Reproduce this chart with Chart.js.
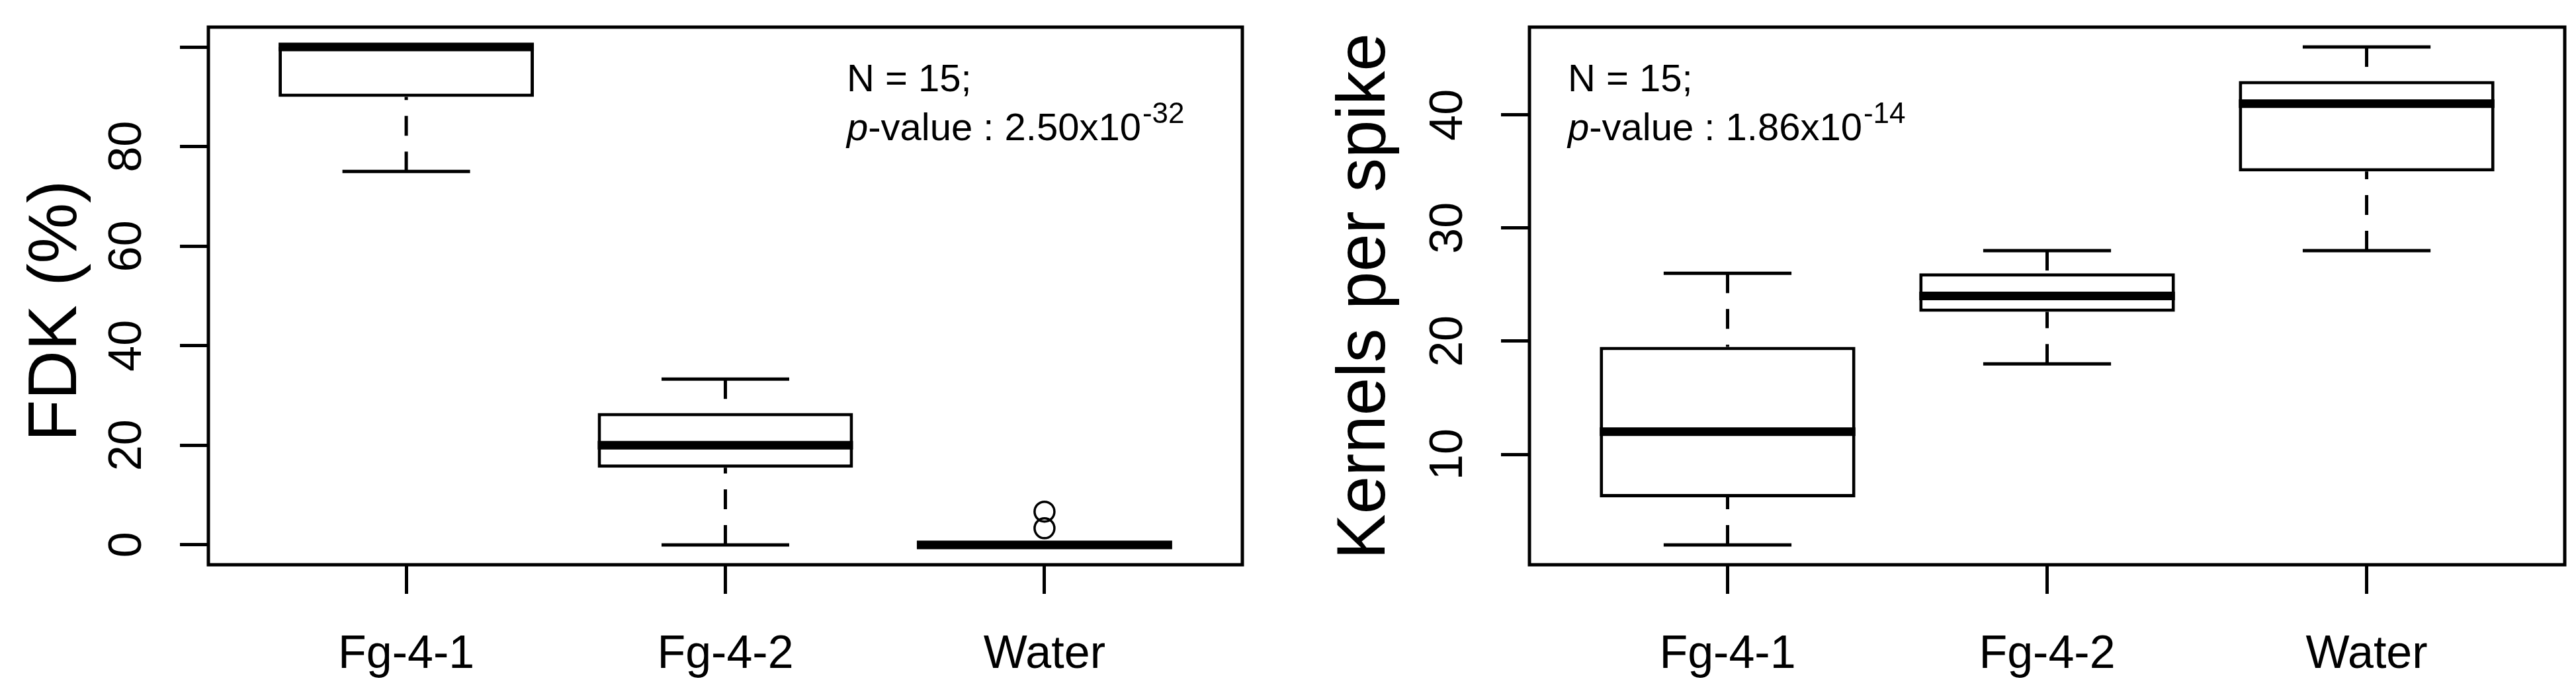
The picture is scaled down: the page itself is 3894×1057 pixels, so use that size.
<!DOCTYPE html>
<html>
<head>
<meta charset="utf-8">
<script src="https://cdn.jsdelivr.net/npm/chart.js@4.4.1/dist/chart.umd.min.js"></script>
<style>
  html, body { margin: 0; padding: 0; background: #fff; }
  #wrap { position: relative; width: 3894px; height: 1057px; }
  canvas { position: absolute; top: 0; }
  #fdkCanvas { left: 0; }
  #kpsCanvas { left: 1950px; }
</style>
</head>
<body>
<div id="wrap">
  <canvas id="fdkCanvas" width="1950" height="1057"></canvas>
  <canvas id="kpsCanvas" width="1944" height="1057"></canvas>
</div>
<script>
// groups on the x axis (positions 1, 2, 3)
const categories = ['Fg-4-1', 'Fg-4-2', 'Water'];

// FDK (%) box statistics per group
const fdkLow = [75, 0, 0];
const fdkQ1 = [90, 15.5, 0];
const fdkMedian = [100, 20, 0];
const fdkQ3 = [100, 26.5, 0];
const fdkHigh = [100, 33.3, 0];
const fdkWaterOutliers = [3.33, 6.67];
const fdkTicks = [0, 20, 40, 60, 80, 100];
const fdkTickLabels = ['0', '20', '40', '60', '80', ''];

// Kernels per spike box statistics per group
const kpsLow = [2, 18, 28];
const kpsQ1 = [6.2, 22.6, 35];
const kpsMedian = [12, 24, 41];
const kpsQ3 = [19.5, 26, 43];
const kpsHigh = [26, 28, 46];
const kpsTicks = [10, 20, 30, 40];
const kpsTickLabels = ['10', '20', '30', '40'];

const FONT = "'Liberation Sans', Arial, Helvetica, sans-serif";

// whiskers, staples, medians and the frame, drawn through the chart scales
function boxMarks(stats) {
  return {
    id: 'boxMarks',
    afterDatasetsDraw(chart) {
      const { ctx, chartArea, scales: { x, y } } = chart;
      const unit = x.getPixelForValue(2) - x.getPixelForValue(1);
      const boxHalf = unit * 0.4;
      const stapleHalf = unit * 0.2;
      const seg = (x1, y1, x2, y2) => {
        ctx.beginPath();
        ctx.moveTo(x1, y1);
        ctx.lineTo(x2, y2);
        ctx.stroke();
      };
      ctx.save();
      ctx.strokeStyle = '#000';
      ctx.lineCap = 'butt';
      categories.forEach((c, i) => {
        const px = x.getPixelForValue(i + 1);
        // dashed whiskers, from the end toward the box
        ctx.lineWidth = 5;
        ctx.setLineDash([30, 24]);
        if (stats.low[i] < stats.q1[i]) {
          seg(px, y.getPixelForValue(stats.low[i]), px, y.getPixelForValue(stats.q1[i]));
        }
        if (stats.high[i] > stats.q3[i]) {
          seg(px, y.getPixelForValue(stats.high[i]), px, y.getPixelForValue(stats.q3[i]));
        }
        ctx.setLineDash([]);
        // staples
        [stats.low[i], stats.high[i]].forEach((v) => {
          const py = y.getPixelForValue(v);
          seg(px - stapleHalf, py, px + stapleHalf, py);
        });
        // median
        ctx.lineWidth = 13;
        const pm = y.getPixelForValue(stats.median[i]);
        seg(px - boxHalf, pm, px + boxHalf, pm);
      });
      ctx.lineWidth = 5;
      ctx.strokeRect(chartArea.left, chartArea.top,
        chartArea.right - chartArea.left, chartArea.bottom - chartArea.top);
      ctx.restore();
    },
  };
}

// rotated y tick labels, axis title and the N / p-value note
function axisText(opts) {
  return {
    id: 'axisText',
    afterDraw(chart) {
      const { ctx, chartArea, scales: { y } } = chart;
      ctx.save();
      ctx.fillStyle = '#000';
      ctx.textBaseline = 'alphabetic';
      ctx.textAlign = 'center';

      ctx.font = `70px ${FONT}`;
      opts.ticks.forEach((v, i) => {
        const label = opts.tickLabels[i];
        if (!label) return;
        ctx.save();
        ctx.translate(chartArea.left - 102, y.getPixelForValue(v));
        ctx.rotate(-Math.PI / 2);
        ctx.fillText(label, 0, 0);
        ctx.restore();
      });

      ctx.font = `103px ${FONT}`;
      ctx.save();
      ctx.translate(opts.titleX, opts.titleY);
      ctx.rotate(-Math.PI / 2);
      ctx.fillText(opts.title, 0, 0);
      ctx.restore();

      // note
      const nx = opts.noteX;
      ctx.textAlign = 'left';
      ctx.font = `58px ${FONT}`;
      ctx.fillText('N = 15;', nx, 138);
      ctx.font = `italic 58px ${FONT}`;
      ctx.fillText('p', nx, 212);
      let cx = nx + ctx.measureText('p').width;
      ctx.font = `58px ${FONT}`;
      const rest = '-value : ' + opts.pBase;
      ctx.fillText(rest, cx, 212);
      cx += ctx.measureText(rest).width;
      ctx.font = `44px ${FONT}`;
      ctx.fillText(opts.pExp, cx + 2, 186);
      ctx.restore();
    },
  };
}

function makeChart(canvasId, s) {
  const boxes = categories.map((c, i) => ({ x: i + 1, y: [s.q1[i], s.q3[i]] }));
  const datasets = [{
    type: 'bar',
    data: boxes,
    backgroundColor: '#fff',
    borderColor: '#000',
    borderWidth: 5,
    borderSkipped: false,
    barPercentage: 0.8,
    categoryPercentage: 1,
  }];
  if (s.outliers.length) {
    datasets.push({
      type: 'scatter',
      data: s.outliers.map((v) => ({ x: s.outlierX, y: v })),
      pointStyle: 'circle',
      pointRadius: 15,
      borderColor: '#000',
      borderWidth: 3.5,
      backgroundColor: 'rgba(0,0,0,0)',
    });
  }
  return new Chart(document.getElementById(canvasId), {
    type: 'bar',
    data: { datasets },
    options: {
      responsive: false,
      animation: false,
      devicePixelRatio: 1,
      layout: { padding: { top: 41, right: s.padRight, left: 0, bottom: 0 } },
      plugins: { legend: { display: false }, tooltip: { enabled: false } },
      scales: {
        x: {
          type: 'linear',
          min: 0.38,
          max: 3.62,
          offset: false,
          afterBuildTicks: (scale) => { scale.ticks = categories.map((c, i) => ({ value: i + 1 })); },
          ticks: {
            autoSkip: false,
            maxRotation: 0,
            padding: 51,
            color: '#000',
            font: { size: 70, family: FONT },
            callback: (v, i) => categories[i],
          },
          grid: {
            offset: false,
            drawOnChartArea: false,
            drawTicks: true,
            tickLength: 44,
            tickWidth: 5,
            tickColor: '#000',
          },
          border: { display: false },
          afterFit: (scale) => { scale.height = 203; },
        },
        y: {
          min: s.yMin,
          max: s.yMax,
          afterBuildTicks: (scale) => { scale.ticks = s.ticks.map((v) => ({ value: v })); },
          ticks: { display: false },
          grid: {
            drawOnChartArea: false,
            drawTicks: true,
            tickLength: 43,
            tickWidth: 5,
            tickColor: '#000',
          },
          border: { display: false },
          afterFit: (scale) => { scale.width = s.yWidth; },
        },
      },
    },
    plugins: [
      boxMarks(s),
      axisText({
        ticks: s.ticks,
        tickLabels: s.tickLabels,
        title: s.title,
        titleX: s.titleX,
        titleY: s.titleY,
        noteX: s.noteX,
        pBase: s.pBase,
        pExp: s.pExp,
      }),
    ],
  });
}

makeChart('fdkCanvas', {
  low: fdkLow, q1: fdkQ1, median: fdkMedian, q3: fdkQ3, high: fdkHigh,
  outliers: fdkWaterOutliers, outlierX: 3,
  ticks: fdkTicks, tickLabels: fdkTickLabels,
  yMin: -4, yMax: 104,
  title: 'FDK (%)', titleX: 115, titleY: 470,
  noteX: 1280, pBase: '2.50x10', pExp: '-32',
  yWidth: 315, padRight: 72,
});

makeChart('kpsCanvas', {
  low: kpsLow, q1: kpsQ1, median: kpsMedian, q3: kpsQ3, high: kpsHigh,
  outliers: [], outlierX: 0,
  ticks: kpsTicks, tickLabels: kpsTickLabels,
  yMin: 0.24, yMax: 47.76,
  title: 'Kernels per spike', titleX: 143, titleY: 448,
  noteX: 420, pBase: '1.86x10', pExp: '-14',
  yWidth: 362, padRight: 17,
});
</script>
</body>
</html>
